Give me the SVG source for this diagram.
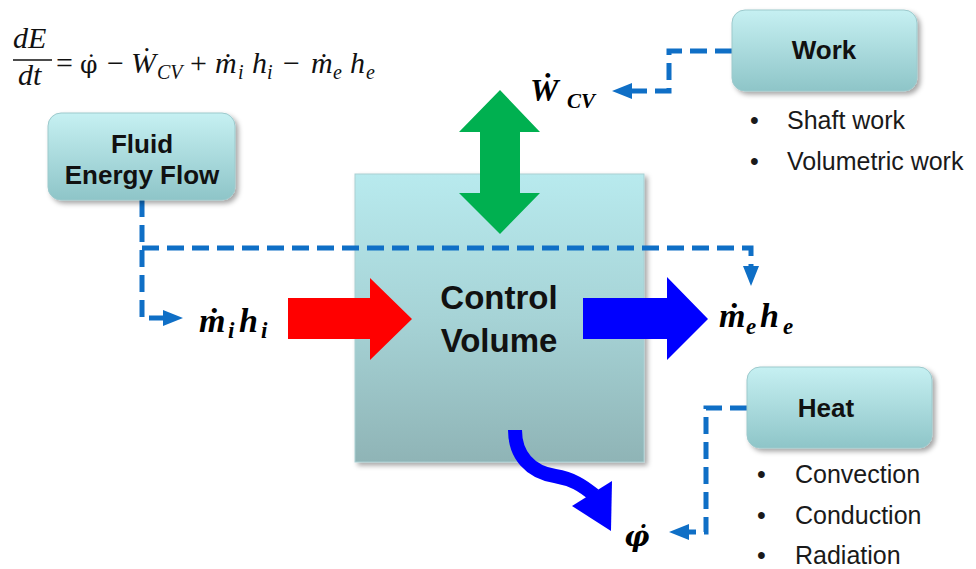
<svg xmlns="http://www.w3.org/2000/svg" width="976" height="569" viewBox="0 0 976 569">
<defs>
<linearGradient id="gBox" x1="0" y1="0" x2="0" y2="1">
<stop offset="0" stop-color="#c6f0f2"/>
<stop offset="1" stop-color="#8ec5c8"/>
</linearGradient>
<linearGradient id="gCV" x1="0" y1="0" x2="0" y2="1">
<stop offset="0" stop-color="#b8eaee"/>
<stop offset="0.5" stop-color="#a6d3d6"/>
<stop offset="1" stop-color="#8fb4b6"/>
</linearGradient>
<filter id="shadow" x="-10%" y="-10%" width="130%" height="130%">
<feDropShadow dx="3" dy="3" stdDeviation="2.5" flood-color="#000" flood-opacity="0.35"/>
</filter>
<marker id="arr" viewBox="0 0 20 16" refX="2" refY="8" markerWidth="20" markerHeight="16" markerUnits="userSpaceOnUse" orient="auto">
<path d="M0,0 L20,8 L0,16 z" fill="#0f6fc6"/>
</marker>
</defs>
<style>
.box{fill:url(#gBox);stroke:#9cc9cc;stroke-width:1;filter:url(#shadow)}
.title{font-family:"Liberation Sans",Arial,sans-serif;font-weight:bold;font-size:26px;fill:#111;text-anchor:middle}
.big{font-size:33px}
.bul{font-family:"Liberation Sans",Arial,sans-serif;font-size:25px;fill:#1a1a1a}
.conn{fill:none;stroke:#0f6fc6;stroke-width:5;stroke-dasharray:17 8}
.math{font-family:"Liberation Serif","DejaVu Serif",serif;font-size:30px;fill:#111}
.sub{font-size:20px;font-style:italic}
.dv{font-family:"DejaVu Serif",serif}
.lab{font-family:"Liberation Serif","DejaVu Serif",serif;font-weight:bold;font-style:italic;fill:#000}
.lsub{font-size:23px}
</style>
<rect width="976" height="569" fill="#fff"/>

<g id="equation" class="math">
<text x="13" y="48" font-style="italic">dE</text>
<line x1="13" y1="60" x2="52" y2="60" stroke="#111" stroke-width="1.5"/>
<text x="18" y="85" font-style="italic">dt</text>
<text y="73"><tspan x="56">=</tspan><tspan class="dv" x="80" font-size="25">φ̇</tspan><tspan x="107">−</tspan><tspan x="131" font-style="italic">Ẇ</tspan><tspan class="sub" x="157" y="79">CV</tspan><tspan x="190" y="73">+</tspan><tspan x="215" font-style="italic">ṁ</tspan><tspan class="sub" x="238" y="79">i</tspan><tspan x="252" y="73" font-style="italic">h</tspan><tspan class="sub" x="267" y="79">i</tspan><tspan x="283" y="73">−</tspan><tspan x="311" font-style="italic">ṁ</tspan><tspan class="sub" x="333" y="79">e</tspan><tspan x="350" y="73" font-style="italic">h</tspan><tspan class="sub" x="366" y="79">e</tspan></text>
</g>

<g id="node-cv">
<rect x="355" y="174" width="289" height="288" fill="url(#gCV)" stroke="#a9cfd2" stroke-width="1" filter="url(#shadow)"/>
<text class="title big" x="499" y="309">Control</text>
<text class="title big" x="499" y="352">Volume</text>
</g>

<g id="connectors">
<path class="conn" d="M732,51 H669 V91 H630" marker-end="url(#arr)"/>
<path class="conn" d="M142,200 V318 H165" marker-end="url(#arr)"/>
<path class="conn" d="M142,248 H751 V268" marker-end="url(#arr)"/>
<path class="conn" d="M747,408 H706 V532 H687" marker-end="url(#arr)"/>
</g>

<g id="flows">
<polygon id="flow-work" points="500,90 540,132 520,132 520,193 540,193 500,234 459,193 480,193 480,132 459,132" fill="#00b050"/>
<polygon id="flow-in" points="288,298 370,298 370,278 412,319 370,360 370,339 288,339" fill="#ff0000"/>
<polygon id="flow-out" points="583,298 667,298 667,277 708,319 667,360 667,339 583,339" fill="#0000ff"/>
<g id="flow-heat" fill="#0000ff">
<path d="M515,430 C515,455 530,472 555,476 C572,479 582,485 594,495" fill="none" stroke="#0000ff" stroke-width="14"/>
<polygon points="612,481 572,506 611,531"/>
</g>
</g>

<g id="node-fluid">
<rect class="box" x="48" y="113" width="187" height="87" rx="13"/>
<text class="title" x="142" y="153">Fluid</text>
<text class="title" x="142" y="184">Energy Flow</text>
</g>

<g id="node-work">
<rect class="box" x="732" y="10" width="185" height="81" rx="13"/>
<text class="title" x="824" y="59">Work</text>
<text class="bul" x="750" y="129">•</text>
<text class="bul" x="787" y="129">Shaft work</text>
<text class="bul" x="750" y="170">•</text>
<text class="bul" x="787" y="170">Volumetric work</text>
</g>

<g id="node-heat">
<rect class="box" x="747" y="367" width="185" height="81" rx="13"/>
<text class="title" x="826" y="417">Heat</text>
<text class="bul" x="757" y="483">•</text>
<text class="bul" x="795" y="483">Convection</text>
<text class="bul" x="757" y="524">•</text>
<text class="bul" x="795" y="524">Conduction</text>
<text class="bul" x="757" y="564">•</text>
<text class="bul" x="795" y="564">Radiation</text>
</g>

<g id="labels" class="lab">
<text y="101" font-size="32"><tspan x="530">Ẇ</tspan><tspan x="567" y="108" font-size="21">CV</tspan></text>
<text y="332" font-size="34"><tspan x="199">ṁ</tspan><tspan class="lsub" x="228" y="338">i</tspan><tspan x="239" y="332">h</tspan><tspan class="lsub" x="261" y="338">i</tspan></text>
<text y="327" font-size="34"><tspan x="719">ṁ</tspan><tspan class="lsub" x="746" y="334">e</tspan><tspan x="760" y="327">h</tspan><tspan class="lsub" x="783" y="334">e</tspan></text>
<text class="dv" x="624" y="546" font-size="28">φ̇</text>
</g>
</svg>
